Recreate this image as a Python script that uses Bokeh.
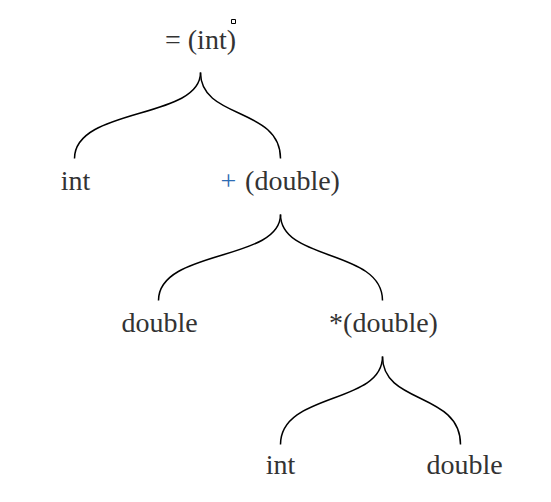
from bokeh.plotting import figure
from bokeh.models import Range1d
from bokeh.core.properties import value
from bokeh.embed import file_html
from bokeh.resources import INLINE

# node labels and positions (page pixels)
labels = ["= (int)", "int", "(double)", "double", "*(double)", "int", "double"]
label_x = [208, 83, 300, 167, 391, 288, 472]
label_y = [47, 188, 188, 330, 330, 472, 472]

# braces: tip and two children
tips = [(208, 80), (288, 222), (390, 364)]
left_ends = [(82, 166), (166, 308), (288, 452)]
right_ends = [(288, 166), (390, 308), (468, 452)]

p = figure(width=535, height=486, x_range=Range1d(0, 535), y_range=Range1d(494, 8),
           output_backend="svg", toolbar_location=None, min_border=0)
p.x_range = Range1d(8, 543)
p.axis.visible = False
p.grid.visible = False
p.outline_line_color = None
p.x_range.start, p.x_range.end = 8, 543

for (tx, ty), (lx, ly), (rx, ry) in zip(tips, left_ends, right_ends):
    for ex, ey in [(lx, ly), (rx, ry)]:
        p.bezier(x0=[tx - 8], y0=[ty - 8], x1=[ex - 8], y1=[ey - 8],
                 cx0=[tx - 8], cy0=[ty - 8 + (ey - ty) * 0.55],
                 cx1=[ex - 8], cy1=[ey - 8 - (ey - ty) * 0.6],
                 line_color="black", line_width=1.5)

p.x_range = Range1d(0, 535)
p.y_range = Range1d(486, 0)

p.text([x - 8 for x in label_x], [y - 8 for y in label_y], text=labels,
       text_font=value("Liberation Serif"), text_font_size="28px", text_color="#333333",
       text_align="center", text_baseline="middle")
# blue plus sign
p.text([236 - 8], [188 - 8], text=["+"], text_font=value("Liberation Serif"),
       text_font_size="28px", text_color="#2E6DB4",
       text_align="center", text_baseline="middle")

p.rect([241 - 8], [29 - 8], width=4, height=4, fill_color="white", line_color="black", line_width=1)

open("out.html", "w").write(file_html(p, INLINE))
